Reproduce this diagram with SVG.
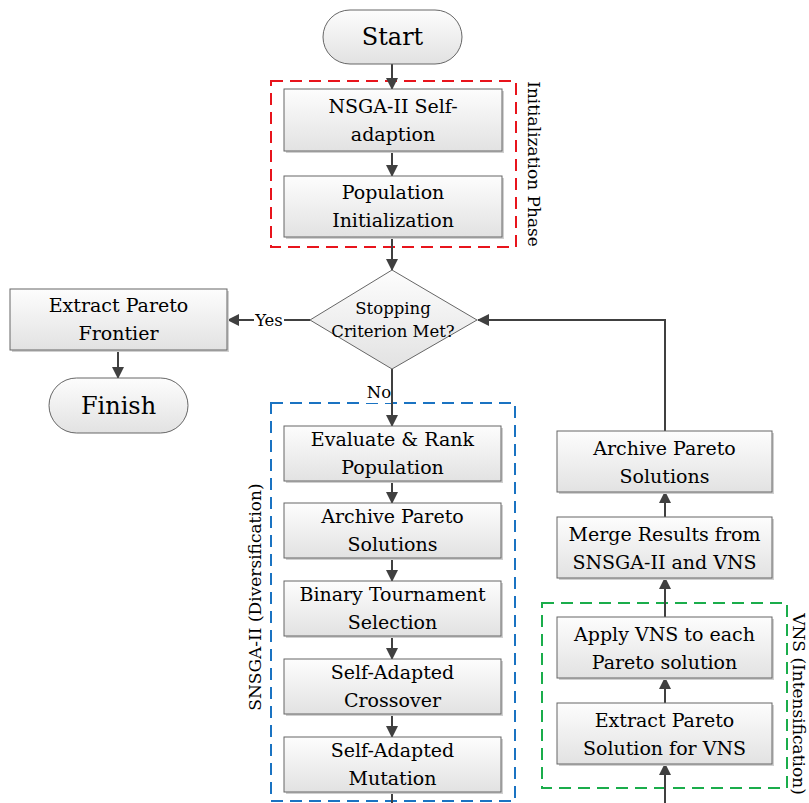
<svg xmlns="http://www.w3.org/2000/svg" width="809" height="803" viewBox="0 0 809 803">
<defs>
<linearGradient id="g" x1="0" y1="0" x2="0" y2="1">
<stop offset="0" stop-color="#fdfdfd"/>
<stop offset="1" stop-color="#e2e2e2"/>
</linearGradient>
<marker id="ah" markerUnits="userSpaceOnUse" markerWidth="12" markerHeight="12" refX="11" refY="6" orient="auto">
<path d="M0,0 L12,6 L0,12 Z" fill="#404040"/>
</marker>
<style>
.box{fill:url(#g);stroke:#666;stroke-width:1}
.sh{fill:#d0d0d0}
.t{font-family:"DejaVu Serif","Liberation Serif",serif;font-size:19px;fill:#000;text-anchor:middle}
.big{font-size:24px}
.sm{font-size:16.5px}
.c{fill:none;stroke:#404040;stroke-width:2}
.ca{fill:none;stroke:#404040;stroke-width:2;marker-end:url(#ah)}
.grp{fill:none;stroke-width:2;stroke-dasharray:12,7}
.lbl{font-family:"DejaVu Serif","Liberation Serif",serif;font-size:17px;fill:#000;text-anchor:middle}
</style>
</defs>
<rect width="809" height="803" fill="#fff"/>

<g id="groups">
<rect id="init-phase" x="271" y="81" width="245" height="166" class="grp" stroke="#e8141c"/>
<rect id="snsga-phase" x="271" y="403" width="244" height="398" class="grp" stroke="#1a73c2"/>
<rect id="vns-phase" x="542" y="603" width="245" height="185" class="grp" stroke="#1aad4b"/>
<text class="lbl" transform="translate(528,164) rotate(90)">Initialization Phase</text>
<text class="lbl" transform="translate(261,597) rotate(-90)">SNSGA-II (Diversification)</text>
<text class="lbl" transform="translate(793,704) rotate(90)">VNS (Intensification)</text>
</g>

<g id="connectors">
<line class="ca" x1="392" y1="64" x2="392" y2="89"/>
<line class="ca" x1="392" y1="151" x2="392" y2="176"/>
<line class="ca" x1="392" y1="237" x2="392" y2="270"/>
<line class="ca" x1="310" y1="320" x2="228" y2="320"/>
<line class="ca" x1="118" y1="350" x2="118" y2="378"/>
<line class="ca" x1="392" y1="369" x2="392" y2="426"/>
<line class="ca" x1="392" y1="481" x2="392" y2="503"/>
<line class="ca" x1="392" y1="558" x2="392" y2="581"/>
<line class="ca" x1="392" y1="636" x2="392" y2="659"/>
<line class="ca" x1="392" y1="714" x2="392" y2="737"/>
<line class="c" x1="392" y1="792" x2="392" y2="803"/>
<line class="ca" x1="665" y1="803" x2="665" y2="764"/>
<line class="ca" x1="665" y1="703" x2="665" y2="678"/>
<line class="ca" x1="665" y1="617" x2="665" y2="578"/>
<line class="ca" x1="665" y1="517" x2="665" y2="492"/>
<polyline class="ca" points="665,431 665,320 478,320"/>
<rect x="254" y="308" width="30" height="22" fill="#fff"/>
<text class="t sm" x="269" y="326">Yes</text>
<rect x="366" y="381" width="25" height="22" fill="#fff"/>
<text class="t sm" x="379" y="398">No</text>
</g>

<g id="start">
<rect x="323" y="10" width="139" height="54" rx="27" class="box"/>
<text class="t big" x="392.5" y="45">Start</text>
</g>

<g id="nsga-self">
<rect x="286" y="91" width="218" height="62" class="sh"/>
<rect x="284" y="89" width="218" height="62" class="box"/>
<text class="t" x="393" y="113">NSGA-II Self-</text>
<text class="t" x="393" y="141">adaption</text>
</g>

<g id="pop-init">
<rect x="286" y="178" width="218" height="61" class="sh"/>
<rect x="284" y="176" width="218" height="61" class="box"/>
<text class="t" x="393" y="199">Population</text>
<text class="t" x="393" y="227">Initialization</text>
</g>

<g id="decision">
<polygon points="392,270 477,320 392,369 310,320" class="box"/>
<text class="t sm" x="393" y="314">Stopping</text>
<text class="t sm" x="393" y="337">Criterion Met?</text>
</g>

<g id="extract-frontier">
<rect x="12" y="291" width="217" height="61" class="sh"/>
<rect x="10" y="289" width="217" height="61" class="box"/>
<text class="t" x="118.5" y="312">Extract Pareto</text>
<text class="t" x="118.5" y="340">Frontier</text>
</g>

<g id="finish">
<rect x="49" y="378" width="139" height="55" rx="27.5" class="box"/>
<text class="t big" x="118.5" y="414">Finish</text>
</g>

<g id="evaluate">
<rect x="286" y="428" width="217" height="55" class="sh"/>
<rect x="284" y="426" width="217" height="55" class="box"/>
<text class="t" x="392.5" y="446">Evaluate &amp; Rank</text>
<text class="t" x="392.5" y="474">Population</text>
</g>

<g id="archive-left">
<rect x="286" y="505" width="217" height="55" class="sh"/>
<rect x="284" y="503" width="217" height="55" class="box"/>
<text class="t" x="392.5" y="523">Archive Pareto</text>
<text class="t" x="392.5" y="551">Solutions</text>
</g>

<g id="binary">
<rect x="286" y="583" width="217" height="55" class="sh"/>
<rect x="284" y="581" width="217" height="55" class="box"/>
<text class="t" x="392.5" y="601">Binary Tournament</text>
<text class="t" x="392.5" y="629">Selection</text>
</g>

<g id="crossover">
<rect x="286" y="661" width="217" height="55" class="sh"/>
<rect x="284" y="659" width="217" height="55" class="box"/>
<text class="t" x="392.5" y="679">Self-Adapted</text>
<text class="t" x="392.5" y="707">Crossover</text>
</g>

<g id="mutation">
<rect x="286" y="739" width="217" height="55" class="sh"/>
<rect x="284" y="737" width="217" height="55" class="box"/>
<text class="t" x="392.5" y="757">Self-Adapted</text>
<text class="t" x="392.5" y="785">Mutation</text>
</g>

<g id="archive-right">
<rect x="559" y="433" width="215" height="61" class="sh"/>
<rect x="557" y="431" width="215" height="61" class="box"/>
<text class="t" x="664.5" y="455">Archive Pareto</text>
<text class="t" x="664.5" y="483">Solutions</text>
</g>

<g id="merge">
<rect x="559" y="519" width="215" height="61" class="sh"/>
<rect x="557" y="517" width="215" height="61" class="box"/>
<text class="t" x="664.5" y="541">Merge Results from</text>
<text class="t" x="664.5" y="569">SNSGA-II and VNS</text>
</g>

<g id="apply-vns">
<rect x="559" y="619" width="215" height="61" class="sh"/>
<rect x="557" y="617" width="215" height="61" class="box"/>
<text class="t" x="664.5" y="641">Apply VNS to each</text>
<text class="t" x="664.5" y="669">Pareto solution</text>
</g>

<g id="extract-vns">
<rect x="559" y="705" width="215" height="61" class="sh"/>
<rect x="557" y="703" width="215" height="61" class="box"/>
<text class="t" x="664.5" y="727">Extract Pareto</text>
<text class="t" x="664.5" y="755">Solution for VNS</text>
</g>
</svg>
